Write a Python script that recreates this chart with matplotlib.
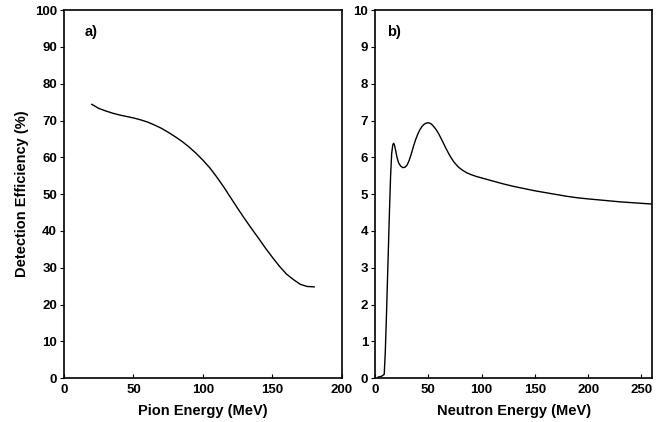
import numpy as np
import matplotlib.pyplot as plt

plt.rcParams['font.family'] = ['Liberation Sans', 'DejaVu Sans']
plt.rcParams['font.weight'] = 'bold'

# a) pion detection efficiency (%) vs pion energy (MeV)
pion_e = [20, 25, 30, 35, 40, 45, 50, 55, 60, 65, 70, 75, 80, 85, 90, 95, 100,
          105, 110, 115, 120, 125, 130, 135, 140, 145, 150, 155, 160, 165, 170, 175, 180]
pion_eff = [74.4, 73.3, 72.6, 72.0, 71.5, 71.1, 70.7, 70.2, 69.6, 68.8, 67.9, 66.8, 65.6,
            64.3, 62.8, 61.1, 59.2, 57.1, 54.6, 51.9, 49.0, 46.1, 43.3, 40.6, 38.0,
            35.3, 32.8, 30.4, 28.3, 26.8, 25.5, 24.9, 24.8]

# b) neutron detection efficiency (%) vs neutron energy (MeV)
neut_e = [3, 6, 8.5, 9.5, 10.5, 11.5, 12.5, 13.5, 14.5, 15.5, 16.5, 17.2, 18, 19, 20.5, 22,
          24, 26, 28, 30, 32, 34, 36, 38, 40, 42, 44, 46, 48, 50, 52, 54, 56, 58, 60,
          63, 66, 70, 74, 78, 82, 86, 90, 95, 100, 110, 120, 130, 140, 150, 160,
          170, 180, 190, 200, 215, 230, 245, 260]
neut_eff = [0.03, 0.05, 0.1, 0.7, 1.6, 2.6, 3.6, 4.6, 5.5, 6.1, 6.33, 6.38, 6.35, 6.22, 6.0, 5.85,
            5.76, 5.72, 5.73, 5.79, 5.92, 6.1, 6.3, 6.48, 6.63, 6.75, 6.84, 6.9, 6.93, 6.94,
            6.92, 6.87, 6.8, 6.72, 6.62, 6.45, 6.27, 6.05, 5.87, 5.74, 5.65, 5.58, 5.53,
            5.48, 5.44, 5.36, 5.28, 5.21, 5.15, 5.09, 5.04, 4.99, 4.94, 4.9, 4.87, 4.83,
            4.79, 4.76, 4.73]

fig = plt.figure(figsize=(6.64, 4.22), dpi=100)
ax1 = fig.add_axes([0.0964, 0.104, 0.4186, 0.872])
ax2 = fig.add_axes([0.565, 0.104, 0.417, 0.872])

ax1.plot(pion_e, pion_eff, color='black', lw=1.0)
ax1.set_xlim(0, 200)
ax1.set_ylim(0, 100)
ax1.set_xticks([0, 50, 100, 150, 200])
ax1.set_yticks(range(0, 101, 10))
ax1.set_xlabel('Pion Energy (MeV)', fontsize=10.5, fontweight='bold')
ax1.set_ylabel('Detection Efficiency (%)', fontsize=10.5, fontweight='bold')
ax1.text(0.075, 0.94, 'a)', transform=ax1.transAxes, fontsize=10.5, fontweight='bold',
         va='center')

ax2.plot(neut_e, neut_eff, color='black', lw=1.0)
ax2.set_xlim(0, 260)
ax2.set_ylim(0, 10)
ax2.set_xticks([0, 50, 100, 150, 200, 250])
ax2.set_yticks(range(0, 11))
ax2.set_xlabel('Neutron Energy (MeV)', fontsize=10.5, fontweight='bold')
ax2.text(0.042, 0.94, 'b)', transform=ax2.transAxes, fontsize=10.5, fontweight='bold',
         va='center')

for ax in (ax1, ax2):
    for s in ax.spines.values():
        s.set_linewidth(1.2)
    ax.tick_params(axis='x', direction='in', length=3, width=0.8, labelsize=9.5, pad=4)
    ax.tick_params(axis='y', direction='out', length=3, width=0.8, labelsize=9.5, pad=2)
    ax.xaxis.set_label_coords(0.5, -0.07)

ax1.yaxis.set_label_coords(-0.125, 0.5)

fig.savefig('out.png', dpi=100)
